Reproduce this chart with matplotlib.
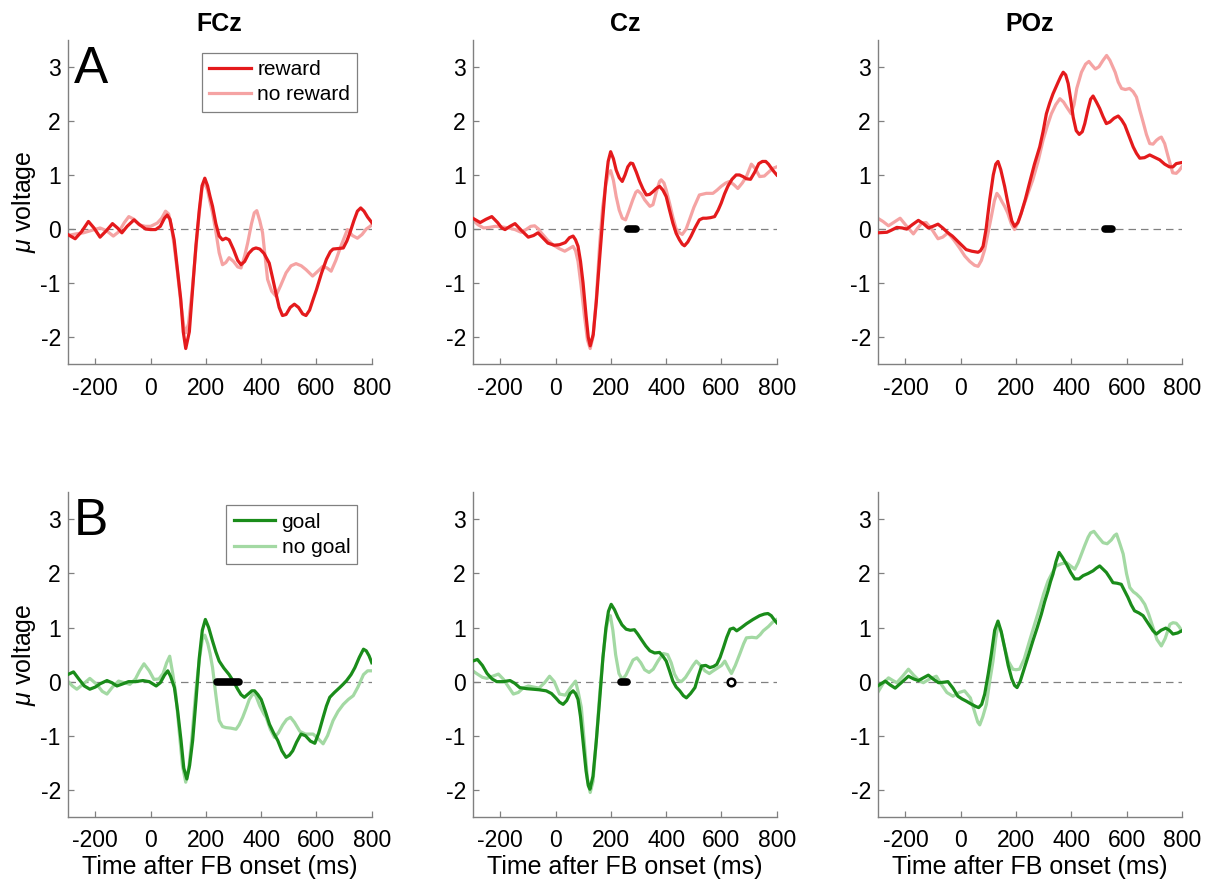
import numpy as np
import matplotlib
matplotlib.use('Agg')
from matplotlib import pyplot as plt

plt.rcParams['font.family'] = ['Liberation Sans', 'DejaVu Sans']
plt.rcParams['mathtext.fontset'] = 'custom'
plt.rcParams['mathtext.it'] = 'Liberation Sans:italic'
plt.rcParams['mathtext.rm'] = 'Liberation Sans'
plt.rcParams['axes.unicode_minus'] = False

CHANNELS = ['FCz', 'Cz', 'POz']
ROW_LETTERS = ['A', 'B']
ROW_LABELS = [['reward', 'no reward'], ['goal', 'no goal']]
XTICKS = [-200, 0, 200, 400, 600, 800]
YTICKS = [-2, -1, 0, 1, 2, 3]

# (time in ms, amplitude in microvolts)
FCZ_REWARD = [(-300, -0.10), (-273, -0.18), (-250, -0.05), (-225, 0.14), (-205, 0.02), (-183, -0.15), (-160, -0.03),
              (-138, 0.10), (-120, 0.02), (-104, -0.07), (-85, 0.05), (-60, 0.17), (-40, 0.08), (-18, 0.0), (0, -0.01),
              (18, -0.01), (35, 0.05), (50, 0.2), (60, 0.26), (70, 0.18), (85, -0.2), (97, -0.75), (109, -1.3),
              (118, -1.9), (127, -2.21), (140, -1.9), (152, -1.1), (164, -0.3), (176, 0.35), (186, 0.8), (196, 0.94),
              (206, 0.8), (215, 0.6), (224, 0.42), (236, 0.1), (248, -0.13), (260, -0.2), (272, -0.17), (284, -0.2),
              (300, -0.38), (315, -0.58), (327, -0.66), (340, -0.6), (355, -0.45), (370, -0.37), (381, -0.35),
              (395, -0.37), (410, -0.45), (429, -0.63), (441, -0.9), (453, -1.18), (465, -1.45), (477, -1.6),
              (490, -1.58), (505, -1.45), (520, -1.39), (535, -1.45), (550, -1.57), (562, -1.6), (575, -1.5),
              (588, -1.3), (600, -1.12), (618, -0.82), (636, -0.56), (650, -0.42), (660, -0.37), (680, -0.36),
              (697, -0.35), (710, -0.22), (721, -0.07), (735, 0.15), (748, 0.33), (760, 0.39), (772, 0.33),
              (785, 0.22), (800, 0.12)]
FCZ_NOREWARD = [(-300, -0.12), (-270, -0.09), (-243, -0.07), (-210, -0.02), (-183, 0.02), (-160, -0.03), (-135, -0.13),
                (-115, -0.05), (-95, 0.12), (-79, 0.23), (-60, 0.18), (-42, 0.08), (-20, 0.05), (0, 0.05), (24, 0.11),
                (40, 0.2), (54, 0.33), (65, 0.28), (75, 0.05), (85, -0.3), (97, -0.8), (110, -1.4), (120, -1.8),
                (127, -1.92), (137, -1.75), (150, -1.15), (164, -0.35), (176, 0.3), (186, 0.75), (194, 0.88),
                (206, 0.72), (215, 0.5), (224, 0.3), (236, -0.05), (248, -0.44), (260, -0.66), (272, -0.62),
                (284, -0.53), (300, -0.6), (315, -0.7), (327, -0.72), (340, -0.5), (351, -0.26), (365, 0.1),
                (375, 0.3), (384, 0.34), (395, 0.15), (405, -0.07), (414, -0.5), (423, -0.93), (438, -1.15),
                (453, -1.24), (470, -1.05), (490, -0.81), (508, -0.68), (526, -0.64), (545, -0.68), (562, -0.75),
                (586, -0.87), (605, -0.78), (623, -0.69), (638, -0.72), (653, -0.78), (670, -0.58), (688, -0.32),
                (712, -0.01), (730, -0.12), (748, -0.17), (765, -0.1), (780, 0.0), (794, 0.05), (800, 0.08)]

CZ_REWARD = [(-300, 0.2), (-273, 0.12), (-252, 0.18), (-231, 0.23), (-210, 0.12), (-195, 0.02), (-183, -0.01),
             (-165, 0.05), (-147, 0.1), (-125, -0.02), (-99, -0.15), (-80, -0.12), (-64, -0.07), (-45, -0.17),
             (-28, -0.26), (-5, -0.3), (14, -0.29), (35, -0.25), (50, -0.16), (63, -0.13), (72, -0.2), (81, -0.32),
             (90, -0.6), (99, -0.99), (110, -1.6), (118, -2.0), (125, -2.16), (136, -1.95), (147, -1.35),
             (159, -0.55), (171, 0.23), (181, 0.85), (190, 1.25), (199, 1.43), (209, 1.3), (219, 1.09), (230, 0.95),
             (241, 0.88), (251, 1.0), (261, 1.15), (271, 1.22), (279, 1.21), (292, 1.05), (304, 0.88), (316, 0.74),
             (328, 0.63), (340, 0.64), (352, 0.69), (364, 0.75), (376, 0.79), (388, 0.72), (400, 0.6), (412, 0.35),
             (424, 0.11), (436, -0.08), (448, -0.2), (458, -0.28), (466, -0.31), (478, -0.24), (490, -0.13),
             (505, 0.03), (520, 0.17), (533, 0.2), (545, 0.2), (560, 0.21), (575, 0.23), (588, 0.35), (599, 0.48),
             (611, 0.65), (623, 0.79), (638, 0.92), (653, 1.0), (665, 1.0), (678, 0.97), (690, 0.93), (705, 0.92),
             (720, 1.05), (735, 1.21), (748, 1.25), (760, 1.25), (770, 1.2), (781, 1.12), (790, 1.06), (800, 1.0)]
CZ_NOREWARD = [(-300, 0.17), (-281, 0.08), (-261, 0.02), (-240, 0.03), (-219, 0.05), (-195, 0.04), (-170, 0.02),
               (-147, -0.01), (-125, -0.06), (-110, -0.02), (-90, 0.05), (-76, 0.06), (-62, 0.0), (-52, -0.07),
               (-30, -0.2), (-10, -0.29), (12, -0.36), (33, -0.41), (50, -0.36), (63, -0.32), (72, -0.4), (81, -0.6),
               (92, -1.05), (104, -1.6), (115, -2.05), (125, -2.21), (135, -2.0), (147, -1.3), (159, -0.3),
               (170, 0.4), (181, 0.8), (190, 1.02), (199, 1.08), (209, 0.9), (219, 0.6), (230, 0.35), (241, 0.2),
               (253, 0.17), (266, 0.35), (279, 0.54), (290, 0.68), (297, 0.71), (310, 0.65), (322, 0.54),
               (341, 0.42), (352, 0.45), (365, 0.7), (376, 0.88), (382, 0.91), (392, 0.85), (400, 0.72), (412, 0.48),
               (424, 0.22), (436, 0.0), (448, -0.07), (458, -0.1), (472, 0.0), (484, 0.17), (500, 0.4), (520, 0.63),
               (545, 0.66), (569, 0.66), (584, 0.72), (599, 0.79), (615, 0.85), (629, 0.88), (645, 0.82),
               (659, 0.75), (675, 0.85), (690, 0.97), (708, 1.2), (722, 1.12), (738, 0.97), (755, 0.98), (770, 1.05),
               (785, 1.12), (800, 1.15)]

POZ_REWARD = [(-300, -0.07), (-267, -0.06), (-250, -0.02), (-231, 0.03), (-212, 0.02), (-195, 0.0), (-175, 0.08),
              (-153, 0.16), (-135, 0.1), (-117, 0.02), (-100, 0.05), (-82, 0.09), (-65, 0.02), (-46, -0.07),
              (-30, -0.13), (-16, -0.2), (0, -0.28), (20, -0.38), (40, -0.41), (63, -0.43), (72, -0.4), (81, -0.32),
              (92, 0.0), (105, 0.54), (118, 1.0), (127, 1.2), (135, 1.25), (145, 1.1), (159, 0.79), (172, 0.45),
              (185, 0.15), (195, 0.05), (207, 0.12), (219, 0.29), (234, 0.55), (249, 0.85), (267, 1.2), (286, 1.52),
              (298, 1.8), (310, 2.13), (322, 2.33), (334, 2.5), (353, 2.72), (362, 2.82), (371, 2.9), (380, 2.85),
              (389, 2.69), (398, 2.4), (407, 2.07), (418, 1.82), (429, 1.75), (440, 1.8), (449, 1.95), (460, 2.2),
              (470, 2.4), (479, 2.46), (491, 2.35), (503, 2.23), (515, 2.08), (527, 1.95), (540, 1.98), (555, 2.05),
              (570, 2.09), (582, 2.02), (594, 1.92), (609, 1.72), (624, 1.52), (636, 1.4), (648, 1.31), (665, 1.32),
              (684, 1.37), (700, 1.33), (720, 1.28), (738, 1.2), (755, 1.15), (768, 1.15), (780, 1.21), (790, 1.22),
              (800, 1.23)]
POZ_NOREWARD = [(-300, 0.2), (-281, 0.14), (-261, 0.06), (-240, 0.13), (-219, 0.2), (-195, 0.05), (-171, -0.09),
                (-155, 0.02), (-141, 0.11), (-125, 0.12), (-105, 0.0), (-82, -0.18), (-65, -0.15), (-46, -0.07),
                (-25, -0.2), (-4, -0.35), (15, -0.5), (33, -0.6), (50, -0.67), (63, -0.69), (75, -0.58), (87, -0.38),
                (100, -0.05), (111, 0.23), (122, 0.52), (131, 0.66), (140, 0.6), (150, 0.5), (159, 0.42), (170, 0.3),
                (183, 0.1), (195, -0.01), (210, 0.15), (225, 0.39), (243, 0.65), (261, 0.91), (280, 1.25),
                (298, 1.64), (313, 1.9), (328, 2.13), (344, 2.3), (359, 2.41), (372, 2.35), (383, 2.26), (400, 2.13),
                (410, 2.3), (420, 2.6), (437, 2.9), (452, 3.05), (464, 3.1), (475, 3.03), (487, 2.96), (500, 3.0),
                (515, 3.12), (528, 3.21), (540, 3.12), (559, 2.9), (570, 2.72), (582, 2.6), (596, 2.58), (611, 2.6),
                (624, 2.54), (636, 2.44), (648, 2.2), (660, 1.98), (672, 1.75), (684, 1.58), (696, 1.57), (708, 1.64),
                (718, 1.68), (726, 1.7), (738, 1.58), (750, 1.35), (767, 1.04), (780, 1.03), (790, 1.08), (800, 1.15)]

FCZ_GOAL = [(-300, 0.13), (-279, 0.18), (-260, 0.05), (-240, -0.08), (-220, -0.14), (-200, -0.1), (-183, -0.04),
            (-158, 0.02), (-140, -0.02), (-122, -0.08), (-100, -0.04), (-80, 0.0), (-55, 0.0), (-28, 0.02), (-5, 0.0),
            (20, -0.08), (35, -0.02), (50, 0.12), (62, 0.2), (72, 0.1), (86, -0.11), (98, -0.55), (110, -1.09),
            (120, -1.6), (131, -1.8), (141, -1.55), (152, -1.09), (164, -0.35), (176, 0.44), (187, 0.95), (198, 1.15),
            (210, 1.0), (224, 0.75), (236, 0.55), (248, 0.38), (265, 0.25), (284, 0.13), (300, 0.0), (315, -0.14),
            (327, -0.24), (339, -0.29), (355, -0.22), (366, -0.17), (376, -0.17), (388, -0.24), (400, -0.33),
            (415, -0.55), (430, -0.79), (445, -0.95), (460, -1.09), (475, -1.28), (490, -1.4), (502, -1.36),
            (514, -1.28), (528, -1.12), (544, -0.97), (560, -1.0), (578, -1.1), (594, -1.14), (608, -0.95),
            (624, -0.66), (636, -0.45), (648, -0.29), (665, -0.2), (684, -0.11), (696, -0.05), (709, 0.02),
            (725, 0.13), (739, 0.26), (755, 0.45), (770, 0.6), (780, 0.57), (790, 0.48), (800, 0.35)]
FCZ_NOGOAL = [(-300, 0.01), (-283, -0.08), (-267, -0.14), (-245, -0.05), (-220, 0.06), (-195, -0.05), (-175, -0.18),
              (-158, -0.23), (-138, -0.1), (-116, 0.01), (-95, -0.02), (-75, -0.05), (-55, 0.05), (-40, 0.2),
              (-24, 0.33), (-5, 0.2), (12, 0.04), (30, 0.05), (45, 0.15), (58, 0.35), (69, 0.47), (80, 0.15),
              (91, -0.23), (103, -0.9), (115, -1.55), (127, -1.86), (138, -1.6), (150, -1.0), (163, -0.2), (176, 0.4),
              (187, 0.78), (196, 0.86), (207, 0.7), (215, 0.52), (224, 0.26), (236, -0.25), (248, -0.72),
              (260, -0.83), (272, -0.85), (290, -0.86), (309, -0.88), (320, -0.8), (333, -0.66), (345, -0.5),
              (357, -0.33), (369, -0.23), (380, -0.25), (395, -0.45), (410, -0.6), (418, -0.66), (433, -0.88),
              (448, -1.03), (462, -0.95), (478, -0.8), (492, -0.7), (506, -0.66), (520, -0.75), (540, -0.92),
              (560, -0.97), (588, -0.97), (605, -1.05), (624, -1.15), (640, -1.0), (660, -0.72), (678, -0.55),
              (697, -0.42), (715, -0.33), (733, -0.26), (750, -0.1), (770, 0.13), (785, 0.2), (800, 0.2)]

CZ_GOAL = [(-300, 0.38), (-283, 0.41), (-265, 0.3), (-248, 0.15), (-230, 0.05), (-213, 0.0), (-190, 0.0), (-165, 0.02),
           (-148, -0.03), (-130, -0.11), (-105, -0.13), (-82, -0.14), (-60, -0.15), (-34, -0.17), (-15, -0.22),
           (2, -0.31), (14, -0.38), (27, -0.42), (40, -0.35), (52, -0.22), (63, -0.17), (72, -0.22), (81, -0.33),
           (90, -0.65), (99, -1.1), (110, -1.65), (118, -1.92), (124, -1.99), (135, -1.75), (147, -1.1), (159, -0.35),
           (171, 0.44), (182, 1.0), (191, 1.3), (201, 1.43), (213, 1.33), (225, 1.19), (240, 1.05), (255, 0.97),
           (270, 0.95), (285, 0.96), (297, 0.88), (310, 0.78), (326, 0.66), (341, 0.57), (358, 0.53), (376, 0.54),
           (388, 0.47), (400, 0.38), (412, 0.2), (424, 0.01), (436, -0.1), (449, -0.17), (462, -0.26), (473, -0.3),
           (488, -0.22), (504, -0.11), (516, 0.1), (528, 0.29), (543, 0.3), (558, 0.26), (571, 0.28), (583, 0.32),
           (595, 0.45), (607, 0.63), (619, 0.82), (631, 0.97), (643, 0.99), (655, 0.94), (672, 1.0), (690, 1.07),
           (714, 1.15), (738, 1.22), (755, 1.25), (768, 1.26), (780, 1.22), (790, 1.15), (800, 1.09)]
CZ_NOGOAL = [(-300, 0.2), (-283, 0.14), (-265, 0.08), (-249, 0.06), (-228, 0.1), (-207, 0.14), (-190, 0.05),
             (-170, -0.1), (-153, -0.23), (-135, -0.2), (-118, -0.12), (-99, -0.08), (-80, -0.1), (-60, -0.12),
             (-40, -0.02), (-22, 0.1), (-5, 0.0), (14, -0.23), (35, -0.25), (55, -0.1), (72, 0.01), (82, -0.2),
             (93, -0.48), (105, -1.2), (115, -1.8), (125, -2.05), (135, -1.85), (147, -1.1), (159, -0.25),
             (171, 0.45), (182, 0.95), (191, 1.18), (198, 1.22), (207, 0.95), (217, 0.5), (229, 0.15), (241, 0.04),
             (254, 0.12), (267, 0.26), (280, 0.4), (294, 0.44), (308, 0.35), (322, 0.22), (338, 0.17), (353, 0.23),
             (370, 0.38), (389, 0.52), (405, 0.5), (418, 0.35), (430, 0.14), (442, 0.03), (455, 0.0), (470, 0.08),
             (485, 0.2), (497, 0.3), (509, 0.38), (524, 0.3), (540, 0.2), (556, 0.15), (570, 0.2), (585, 0.25),
             (600, 0.3), (612, 0.38), (625, 0.25), (636, 0.15), (650, 0.3), (666, 0.51), (680, 0.7), (690, 0.81),
             (710, 0.82), (727, 0.81), (740, 0.87), (751, 0.94), (770, 1.02), (785, 1.1), (800, 1.15)]

POZ_GOAL = [(-300, -0.08), (-285, -0.03), (-273, 0.01), (-255, -0.06), (-237, -0.12), (-215, -0.02), (-189, 0.1),
            (-170, 0.05), (-153, 0.02), (-135, 0.07), (-117, 0.12), (-100, 0.05), (-80, -0.02), (-60, -0.01),
            (-46, 0.0), (-28, -0.12), (-10, -0.27), (5, -0.32), (20, -0.36), (40, -0.42), (55, -0.46), (65, -0.48),
            (76, -0.42), (87, -0.23), (100, 0.15), (111, 0.51), (123, 0.95), (135, 1.12), (147, 0.92), (159, 0.63),
            (172, 0.3), (185, 0.05), (195, -0.07), (204, -0.11), (215, 0.0), (231, 0.26), (246, 0.5), (261, 0.75),
            (277, 1.0), (292, 1.25), (304, 1.48), (316, 1.68), (325, 1.85), (334, 1.99), (345, 2.22), (356, 2.39),
            (368, 2.3), (383, 2.17), (398, 2.02), (413, 1.9), (428, 1.9), (443, 1.96), (461, 2.0), (479, 2.05),
            (491, 2.1), (503, 2.14), (515, 2.08), (527, 2.02), (540, 1.92), (551, 1.83), (566, 1.82), (581, 1.8),
            (593, 1.68), (605, 1.56), (617, 1.42), (629, 1.31), (645, 1.27), (660, 1.22), (678, 1.08), (696, 0.94),
            (708, 0.88), (725, 0.95), (742, 0.99), (755, 0.95), (768, 0.88), (785, 0.9), (800, 0.94)]
POZ_NOGOAL = [(-300, -0.2), (-280, -0.03), (-261, 0.07), (-245, 0.02), (-231, -0.02), (-210, 0.1), (-189, 0.23),
              (-170, 0.12), (-150, 0.02), (-135, -0.02), (-112, 0.05), (-88, 0.1), (-70, -0.05), (-50, -0.2),
              (-28, -0.27), (-5, -0.2), (14, -0.17), (35, -0.3), (50, -0.55), (62, -0.75), (69, -0.8), (80, -0.65),
              (93, -0.42), (105, 0.0), (117, 0.38), (127, 0.8), (135, 1.05), (145, 0.95), (158, 0.65), (172, 0.38),
              (189, 0.23), (200, 0.22), (213, 0.23), (230, 0.42), (249, 0.75), (268, 1.07), (286, 1.37), (300, 1.62),
              (316, 1.86), (330, 2.0), (346, 2.14), (365, 2.18), (383, 2.2), (400, 2.13), (413, 2.08), (425, 2.2),
              (437, 2.36), (449, 2.52), (461, 2.67), (470, 2.75), (482, 2.78), (497, 2.68), (515, 2.57), (530, 2.55),
              (545, 2.62), (556, 2.7), (564, 2.73), (576, 2.55), (588, 2.36), (600, 2.0), (612, 1.74), (625, 1.66),
              (636, 1.62), (650, 1.55), (666, 1.43), (680, 1.25), (696, 1.0), (710, 0.78), (726, 0.66), (740, 0.8),
              (757, 1.06), (768, 1.09), (780, 1.08), (790, 1.02), (800, 0.94)]

# significant time windows (ms) per panel, and single significant points
SIG_WINDOWS = [[[], [(261, 290)], [(521, 549)]],
               [[(241, 319)], [(237, 257)], []]]
SIG_POINTS = [[[], [], []],
              [[], [633], []]]

SERIES = [[(FCZ_REWARD, FCZ_NOREWARD), (CZ_REWARD, CZ_NOREWARD), (POZ_REWARD, POZ_NOREWARD)],
          [(FCZ_GOAL, FCZ_NOGOAL), (CZ_GOAL, CZ_NOGOAL), (POZ_GOAL, POZ_NOGOAL)]]
COLORS = [('#e41a1c', '#f5a3a3'), ('#1a8c1a', '#a3d9a3')]

fig = plt.figure(figsize=(12.09, 8.84), dpi=100)
lefts = [0.056, 0.391, 0.726]
bottoms = [0.588, 0.076]

for r in range(2):
    for c in range(3):
        ax = fig.add_axes([lefts[c], bottoms[r], 0.2515, 0.367])
        dark, light = SERIES[r][c]
        ax.axhline(0, color='#808080', lw=0.9, ls=(0, (6, 4)), zorder=1)
        td, vd = np.array(dark).T
        tl, vl = np.array(light).T
        ax.plot(td, vd, color=COLORS[r][0], lw=2.3, solid_joinstyle='round', zorder=3, label=ROW_LABELS[r][0])
        ax.plot(tl, vl, color=COLORS[r][1], lw=2.3, solid_joinstyle='round', zorder=2, label=ROW_LABELS[r][1])

        for a, b in SIG_WINDOWS[r][c]:
            ax.plot([a, b], [0, 0], color='black', lw=5.5, solid_capstyle='round', zorder=4)
        for p in SIG_POINTS[r][c]:
            ax.plot([p], [0], marker='o', ms=5.5, mfc='white', mec='black', mew=1.8, zorder=4)

        ax.set_xlim(-300, 800)
        ax.set_ylim(-2.5, 3.5)
        ax.set_xticks(XTICKS)
        ax.set_yticks(YTICKS)
        for s in ['top', 'right']:
            ax.spines[s].set_visible(False)
        for s in ['left', 'bottom']:
            ax.spines[s].set_color('#808080')
            ax.spines[s].set_linewidth(1.0)
        ax.tick_params(direction='in', length=4, width=0.9, color='#808080', labelsize=16.5)
        ax.tick_params(axis='x', pad=9)
        ax.tick_params(axis='y', pad=5)

        if r == 0:
            ax.set_title(CHANNELS[c], fontsize=18, fontweight='bold', pad=6)
        else:
            ax.set_xlabel('Time after FB onset (ms)', fontsize=18, labelpad=2)
        if c == 0:
            ax.set_ylabel(r'$\mu$ voltage', fontsize=18, labelpad=2)
            ax.text(0.02, 0.985, ROW_LETTERS[r], transform=ax.transAxes, fontsize=37, va='top', ha='left')
            leg = ax.legend(loc='upper right', bbox_to_anchor=(0.953, 0.96), borderaxespad=0, fontsize=15,
                            handlelength=2.0, handletextpad=0.3, borderpad=0.35, labelspacing=0.3,
                            fancybox=False, framealpha=1)
            leg.get_frame().set_edgecolor('#808080')
            leg.get_frame().set_linewidth(0.9)

fig.savefig('out.png', dpi=100)
